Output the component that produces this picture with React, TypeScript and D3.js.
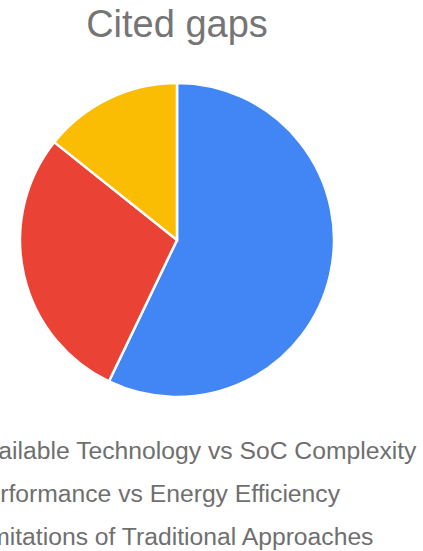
import React from "react";
import * as d3 from "d3";

const categories = [
  "Available Technology vs SoC Complexity",
  "Performance vs Energy Efficiency",
  "Limitations of Traditional Approaches",
];
const values = [4, 2, 1];
const colors = ["#4285F4", "#EA4335", "#FBBC04"];
const title = "Cited gaps";

const W = 423;
const H = 551;

export default function App() {
  const cx = 177;
  const cy = 240;
  const r = 157;
  const data = categories.map((c, i) => ({ c, v: values[i], color: colors[i] }));
  const pie = d3.pie<any>().value((d) => d.v).sort(null);
  const arcs = pie(data);
  const arc = d3.arc<any>().innerRadius(0).outerRadius(r);
  const legendX = -30;
  const legendY0 = 459;
  const legendStep = 43;
  return (
    <svg
      width={W}
      height={H}
      style={{ position: "absolute", left: 0, top: 0, background: "#fff" }}
      fontFamily="Arial, 'Liberation Sans', sans-serif"
    >
      <text x={cx} y={37} textAnchor="middle" fontSize={38} fill="#757575">
        {title}
      </text>
      <g transform={`translate(${cx},${cy})`}>
        {arcs.map((a, i) => (
          <path key={i} d={arc(a) as string} fill={a.data.color} stroke="#fff" strokeWidth={2.5} />
        ))}
      </g>
      {data.map((d, i) => (
        <g key={i}>
          <circle cx={legendX - 20} cy={legendY0 + i * legendStep - 8} r={8} fill={d.color} />
          <text x={legendX} y={legendY0 + i * legendStep} fontSize={24.7} fill="#6f6f6f">
            {d.c}
          </text>
        </g>
      ))}
    </svg>
  );
}
